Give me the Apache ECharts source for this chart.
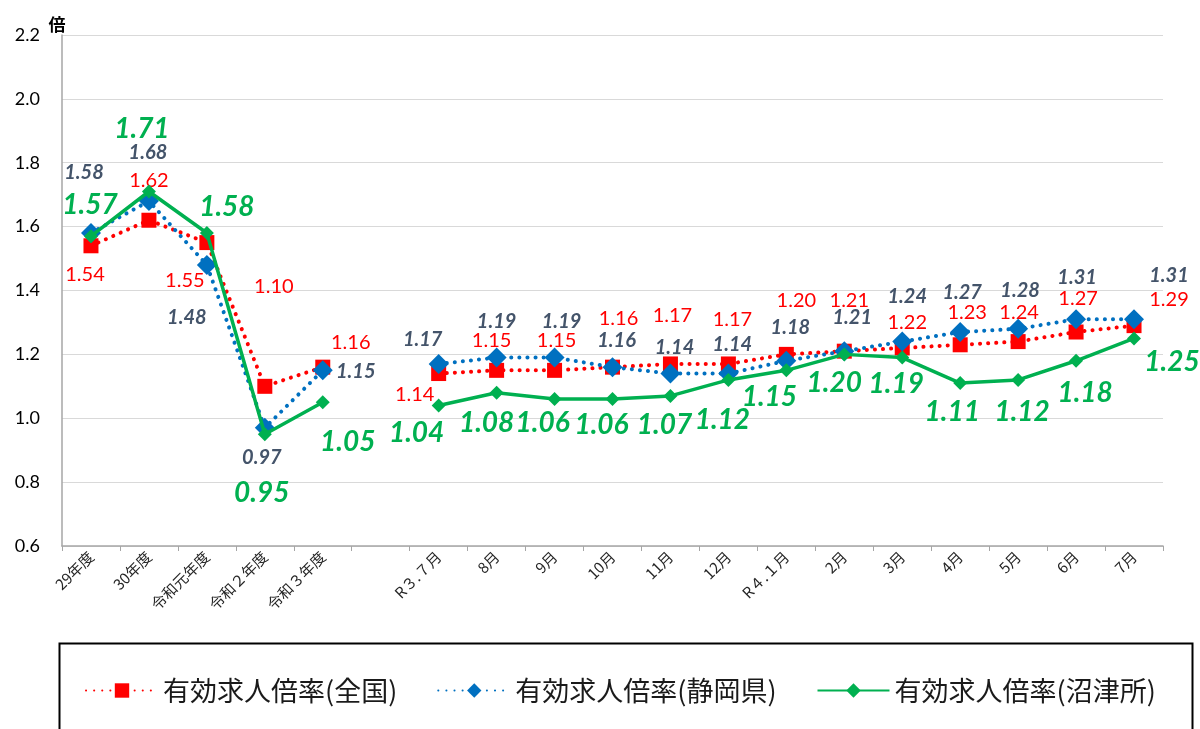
<!DOCTYPE html>
<html>
<head>
    <meta charset="utf-8">
    <title>有効求人倍率</title>
    <script src="https://cdn.jsdelivr.net/npm/echarts@6/dist/echarts.min.js"></script>
</head>
<body style="margin:0;background:#fff;">
    <div id="main" style="width:1200px;height:729px;"></div>
    <script type="text/javascript">

    // categories (blank slot between fiscal years and months)
    var cats = ['29年度', '30年度', '令和元年度', '令和２年度', '令和３年度', '',
        'R３.７月', '8月', '9月', '10月', '11月', '12月', 'R４.１月',
        '2月', '3月', '4月', '5月', '6月', '7月'];

    var zenkoku  = [1.54, 1.62, 1.55, 1.10, 1.16, null, 1.14, 1.15, 1.15, 1.16, 1.17, 1.17, 1.20, 1.21, 1.22, 1.23, 1.24, 1.27, 1.29];
    var shizuoka = [1.58, 1.68, 1.48, 0.97, 1.15, null, 1.17, 1.19, 1.19, 1.16, 1.14, 1.14, 1.18, 1.21, 1.24, 1.27, 1.28, 1.31, 1.31];
    var numazu   = [1.57, 1.71, 1.58, 0.95, 1.05, null, 1.04, 1.08, 1.06, 1.06, 1.07, 1.12, 1.15, 1.20, 1.19, 1.11, 1.12, 1.18, 1.25];

    var names = ['有効求人倍率(全国)', '有効求人倍率(静岡県)', '有効求人倍率(沼津所)'];

    // label offsets from each point (pixels), placed like the original
    var offRed = [[-6,29],[0,-40],[-22,38],[9,-100],[28,-25],null,[-24,21],[-5,-30],[2,-30],[6,-49],[2,-48],[4,-44],[10,-54],[5,-51],[5,-25],[7,-32],[1,-29],[2,-33],[35,-26]];
    var offBlue = [[-7,-60],[-1,-49],[-20,53],[-3,30],[33,1],null,[-16,-24],[0,-36],[7,-36],[4,-27],[4,-26],[4,-29],[4,-33],[8,-34],[5,-45],[2,-39],[2,-38],[1,-42],[35,-44]];
    var offGreen = [[-1,-31],[-7,-63],[20,-26],[-3,59],[25,40],null,[-22,27],[-10,30],[-12,24],[-11,26],[-6,29],[-6,40],[-17,27],[-10,29],[-6,26],[-8,29],[4,32],[9,32],[38,24]];

    function build(vals, offs) {
        var out = [];
        for (var i = 0; i < vals.length; i++) {
            if (vals[i] === null) { out.push('-'); continue; }
            out.push({ value: vals[i], label: { offset: offs[i] } });
        }
        return out;
    }

    var numFont = 'Lato, "Noto Sans", sans-serif';
    var jpFont = '"Noto Sans CJK JP", sans-serif';
    var fmt = function (p) { return p.value.toFixed(2); };

    var myChart = echarts.init(document.getElementById('main'));

    var option = {
        animation: false,
        backgroundColor: '#fff',
        grid: { left: 62, right: 37, top: 35, bottom: 183, containLabel: false },
        xAxis: {
            type: 'category',
            data: cats,
            boundaryGap: true,
            axisLine: { lineStyle: { color: '#A6A6A6', width: 1.5 } },
            axisTick: { show: true, alignWithLabel: false, length: 5, lineStyle: { color: '#A6A6A6' } },
            axisLabel: { interval: 0, rotate: 45, margin: 8, fontSize: 15, color: '#262626', fontFamily: jpFont }
        },
        yAxis: {
            type: 'value',
            min: 0.6, max: 2.2, interval: 0.2,
            name: '倍',
            nameLocation: 'end',
            nameGap: 2,
            nameTextStyle: { fontSize: 17, fontWeight: 'bold', color: '#000', fontFamily: jpFont, padding: [0, 10, 0, 0] },
            axisLine: { show: true, lineStyle: { color: '#A6A6A6', width: 1.5 } },
            axisTick: { show: false },
            splitLine: { lineStyle: { color: '#D9D9D9', width: 1.2 } },
            axisLabel: { margin: 22, fontSize: 18, color: '#000', fontFamily: numFont,
                formatter: function (v) { return v.toFixed(1); } }
        },
        legend: {
            left: 80, top: 672,
            itemWidth: 72, itemHeight: 18, itemGap: 40,
            textStyle: { fontSize: 27, color: '#1a1a1a', fontFamily: jpFont, width: 250 },
            data: names
        },
        graphic: [{
            type: 'rect', left: 57, top: 641,
            shape: { width: 1133, height: 120 },
            style: { fill: 'none', stroke: '#000', lineWidth: 2 }
        }],
        series: [
            {
                name: names[0], type: 'line', data: build(zenkoku, offRed),
                connectNulls: false, symbol: 'rect', symbolSize: 15,
                lineStyle: { color: '#FF0000', width: 4, type: [0.1, 8], cap: 'round' },
                itemStyle: { color: '#FF0000' },
                label: { show: true, position: 'inside', fontSize: 20, color: '#FF0000',
                    fontFamily: numFont, textBorderWidth: 0, formatter: fmt },
                z: 2
            },
            {
                name: names[1], type: 'line', data: build(shizuoka, offBlue),
                connectNulls: false, symbol: 'diamond', symbolSize: 20,
                lineStyle: { color: '#0070C0', width: 4, type: [0.1, 8], cap: 'round' },
                itemStyle: { color: '#0070C0' },
                label: { show: true, position: 'inside', fontSize: 20, color: '#44546A',
                    fontWeight: 'bold', fontStyle: 'italic',
                    fontFamily: numFont, textBorderWidth: 0, formatter: fmt },
                z: 3
            },
            {
                name: names[2], type: 'line', data: build(numazu, offGreen),
                connectNulls: false, symbol: 'diamond', symbolSize: 14,
                lineStyle: { color: '#00B050', width: 3.5 },
                itemStyle: { color: '#00B050' },
                label: { show: true, position: 'inside', fontSize: 28, color: '#00B050',
                    fontWeight: 'bold', fontStyle: 'italic',
                    fontFamily: numFont, textBorderWidth: 0, formatter: fmt },
                z: 4
            }
        ]
    };

    myChart.setOption(option);
    </script>
</body>
</html>
